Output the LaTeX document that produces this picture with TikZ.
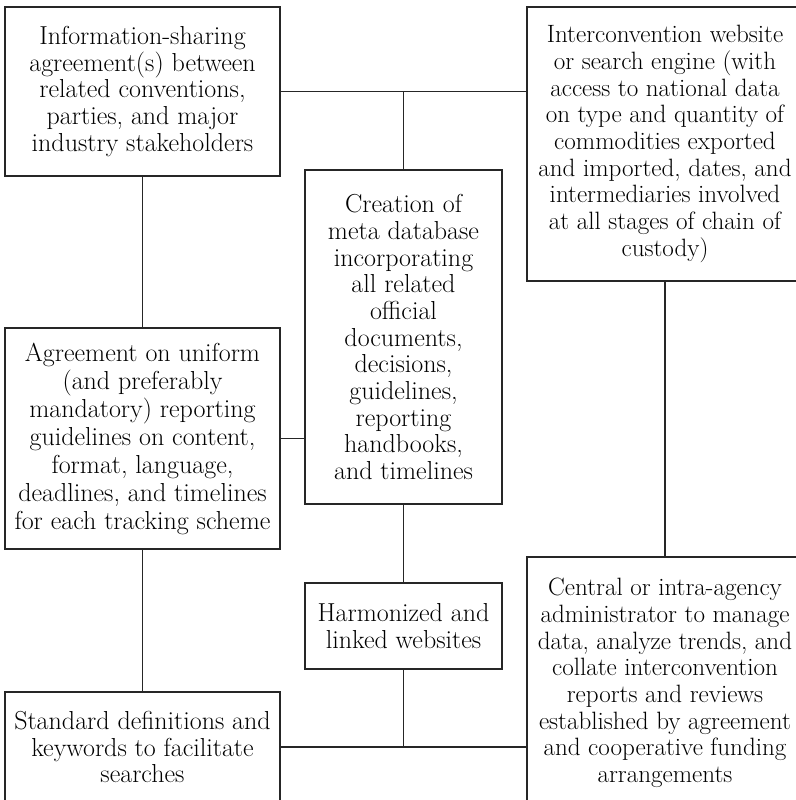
\documentclass[tikz,border=0pt]{standalone}
\begin{document}
\begin{tikzpicture}[x=0.75pt,y=-0.75pt,
	box/.style={draw=black!85,line width=0.8pt,align=center,inner sep=0pt,text=black,font=\fontsize{19.5}{20}\selectfont},
	wide/.style={box,minimum width=206.25pt},
	narrow/.style={box,minimum width=147.75pt},
	side/.style={box,minimum width=207pt,font=\fontsize{18.8}{20}\selectfont},
	link/.style={draw=black!85,line width=1pt}]
	\useasboundingbox (0,0) rectangle (796,800);
	\clip (0,0) rectangle (796,800);
	\node[wide,minimum height=126.75pt] (info) at (142.5,91.5) {Information-sharing\\agreement(s) between\\related conventions,\\parties, and major\\industry stakeholders};
	\node[side,minimum height=205.5pt] (inter) at (665,144) {Interconvention website\\or search engine (with\\access to national data\\on type and quantity of\\commodities exported\\and imported, dates, and\\intermediaries involved\\at all stages of chain of\\custody)};
	\node[narrow,minimum height=250.5pt] (meta) at (403.5,337) {Creation of\\meta database\\incorporating\\all related\\official\\documents,\\decisions,\\guidelines,\\reporting\\handbooks,\\and timelines};
	\node[wide,minimum height=165.75pt,font=\fontsize{19.5}{21}\selectfont] (agree) at (142.5,438.5) {Agreement on uniform\\(and preferably\\mandatory) reporting\\guidelines on content,\\format, language,\\deadlines, and timelines\\for each tracking scheme};
	\node[narrow,minimum height=64.5pt] (harm) at (403.5,626) {Harmonized and\\linked websites};
	\node[wide,minimum height=82.5pt] (std) at (142.5,747) {Standard definitions and\\keywords to facilitate\\searches};
	\node[side,minimum height=189pt] (central) at (665,683) {Central or intra-agency\\administrator to manage\\data, analyze trends, and\\collate interconvention\\reports and reviews\\established by agreement\\and cooperative funding\\arrangements};
	\draw[link] (info.east) -- (info.east -| inter.west);
	\draw[link] (meta.north) -- (meta.north |- info.east);
	\draw[link] (info.south) -- (agree.north);
	\draw[link] (agree.east) -- (agree.east -| meta.west);
	\draw[link] (meta.south) -- (harm.north);
	\draw[link] (agree.south) -- (std.north);
	\draw[link] (inter.south) -- (central.north);
	\draw[link] (std.east) -- (std.east -| central.west);
	\draw[link] (harm.south) -- (harm.south |- std.east);
\end{tikzpicture}
\end{document}
